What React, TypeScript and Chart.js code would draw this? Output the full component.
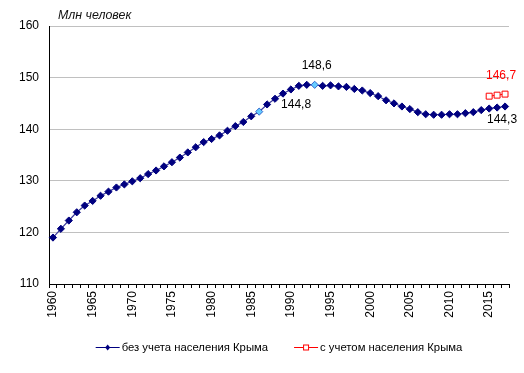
import React, { useEffect, useRef } from 'react';
import { Chart, registerables } from 'chart.js';

Chart.register(...registerables);

const years = [
  '1960', '1961', '1962', '1963', '1964', '1965', '1966', '1967', '1968', '1969',
  '1970', '1971', '1972', '1973', '1974', '1975', '1976', '1977', '1978', '1979',
  '1980', '1981', '1982', '1983', '1984', '1985', '1986', '1987', '1988', '1989',
  '1990', '1991', '1992', '1993', '1994', '1995', '1996', '1997', '1998', '1999',
  '2000', '2001', '2002', '2003', '2004', '2005', '2006', '2007', '2008', '2009',
  '2010', '2011', '2012', '2013', '2014', '2015', '2016', '2017',
];

const xTickLabels = ['1960', '1965', '1970', '1975', '1980', '1985', '1990', '1995', '2000', '2005', '2010', '2015'];

const noCrimea = [
  119.0, 120.7, 122.3, 123.9, 125.2, 126.1, 127.1, 127.9, 128.7, 129.3,
  129.9, 130.5, 131.3, 132.0, 132.8, 133.6, 134.5, 135.5, 136.5, 137.5,
  138.1, 138.8, 139.7, 140.6, 141.4, 142.5, 143.4, 144.8, 145.9, 146.9,
  147.7, 148.4, 148.6, 148.6, 148.4, 148.5, 148.3, 148.2, 147.8, 147.5,
  147.0, 146.4, 145.6, 145.0, 144.4, 143.9, 143.3, 142.9, 142.8, 142.8,
  142.9, 142.9, 143.1, 143.3, 143.7, 144.0, 144.2, 144.4,
];

const crimeaYears = ['2015', '2016', '2017'];
const withCrimea = [146.4, 146.6, 146.8];

const highlightYears = ['1986', '1993'];

const seriesNames = ['без учета населения Крыма', 'с учетом населения Крыма'];
const unitTitle = 'Млн человек';

const yMin = 110;
const yMax = 160;
const yStep = 10;

const valueLabelTexts = ['148,6', '144,8', '146,7', '144,3'];
const valueLabelDatasets = [0, 0, 1, 0];
const valueLabelYears = ['1993', '1987', '2017', '2017'];

// styles / offsets (not data)
const valueLabelColors = ['#000000', '#000000', '#ff0000', '#000000'];
const valueLabelOffsets = [[2, -19], [29, 0], [-4, -18], [-3, 13]];

const FONT = "'Liberation Sans', Arial, sans-serif";
const NAVY = '#000080';
const LINE_BLUE = '#3a3a9c';
const LIGHT = '#66ccff';
const RED = '#ff0000';

const overlayPlugin = {
  id: 'overlay',
  afterDatasetsDraw(chart: any) {
    const ctx = chart.ctx;
    const area = chart.chartArea;
    ctx.save();
    // unit title
    ctx.font = `italic 12.4px ${FONT}`;
    ctx.fillStyle = '#111111';
    ctx.textAlign = 'left';
    ctx.textBaseline = 'middle';
    ctx.fillText(unitTitle, area.left + 9, area.top - 10);

    // value labels
    ctx.font = `12px ${FONT}`;
    ctx.textAlign = 'center';
    ctx.textBaseline = 'middle';
    valueLabelTexts.forEach((txt, i) => {
      const ds = valueLabelDatasets[i];
      const meta = chart.getDatasetMeta(ds);
      const idx = ds === 0 ? years.indexOf(valueLabelYears[i]) : crimeaYears.indexOf(valueLabelYears[i]);
      const pt = meta.data[idx];
      if (!pt) return;
      ctx.fillStyle = valueLabelColors[i];
      ctx.fillText(txt, pt.x + valueLabelOffsets[i][0], pt.y + valueLabelOffsets[i][1]);
    });

    // legend
    ctx.font = `11.3px ${FONT}`;
    ctx.textAlign = 'left';
    ctx.textBaseline = 'middle';
    const lineLen = 24;
    const textGap = 2;
    const itemGap = 26;
    const widths = seriesNames.map((s) => lineLen + textGap + ctx.measureText(s).width);
    const total = widths[0] + widths[1] + itemGap;
    let x = (area.left + area.right) / 2 - total / 2;
    const y = 347;
    seriesNames.forEach((name, i) => {
      ctx.lineWidth = 1;
      ctx.strokeStyle = i === 0 ? NAVY : RED;
      ctx.beginPath();
      ctx.moveTo(x, y + 0.5);
      ctx.lineTo(x + lineLen, y + 0.5);
      ctx.stroke();
      const mx = x + lineLen / 2;
      if (i === 0) {
        ctx.fillStyle = NAVY;
        ctx.beginPath();
        ctx.moveTo(mx, y - 2.5);
        ctx.lineTo(mx + 2.5, y + 0.5);
        ctx.lineTo(mx, y + 3.5);
        ctx.lineTo(mx - 2.5, y + 0.5);
        ctx.closePath();
        ctx.fill();
      } else {
        ctx.fillStyle = '#ffffff';
        ctx.fillRect(mx - 3, y - 2.5, 6, 6);
        ctx.strokeStyle = RED;
        ctx.strokeRect(mx - 2.5, y - 2, 5, 5);
      }
      ctx.fillStyle = '#000000';
      ctx.fillText(name, x + lineLen + textGap, y + 1);
      x += widths[i] + itemGap;
    });
    ctx.restore();
  },
};

export default function App() {
  const canvasRef = useRef<HTMLCanvasElement | null>(null);

  useEffect(() => {
    document.body.style.margin = '0';
    const canvas = canvasRef.current;
    if (!canvas) return;
    const chart = new Chart(canvas, {
      type: 'line',
      data: {
        labels: years,
        datasets: [
          {
            label: seriesNames[0],
            data: noCrimea,
            borderColor: LINE_BLUE,
            borderWidth: 1.2,
            pointStyle: 'rectRot',
            pointRadius: 3.6,
            pointBorderWidth: 1,
            pointBackgroundColor: (c: any) => (highlightYears.includes(years[c.dataIndex]) ? LIGHT : NAVY),
            pointBorderColor: (c: any) => (highlightYears.includes(years[c.dataIndex]) ? '#3366cc' : NAVY),
            tension: 0,
            fill: false,
          },
          {
            label: seriesNames[1],
            data: crimeaYears.map((yr, i) => ({ x: yr, y: withCrimea[i] })),
            borderColor: RED,
            borderWidth: 1,
            pointStyle: 'rect',
            pointRadius: 4.2,
            pointBorderWidth: 1,
            pointBackgroundColor: '#ffffff',
            pointBorderColor: RED,
            tension: 0,
            fill: false,
          },
        ],
      },
      options: {
        responsive: false,
        animation: false,
        devicePixelRatio: 1,
        layout: { padding: { top: 26, right: 15, left: 0, bottom: 0 } },
        plugins: {
          legend: { display: false },
          tooltip: { enabled: false },
          title: { display: false },
        },
        scales: {
          x: {
            type: 'category',
            offset: true,
            grid: {
              offset: true,
              drawOnChartArea: false,
              drawTicks: true,
              tickLength: 4,
              color: '#000000',
            },
            border: { color: '#000000', width: 1 },
            ticks: {
              autoSkip: false,
              maxRotation: 90,
              minRotation: 90,
              padding: 3,
              color: '#000000',
              font: { family: FONT, size: 12 },
              callback: (_v: any, i: number) => (xTickLabels.includes(years[i]) ? years[i] : ''),
            },
            afterFit: (scale: any) => {
              scale.height = 89;
            },
          },
          y: {
            min: yMin,
            max: yMax,
            ticks: {
              stepSize: yStep,
              padding: 10,
              color: '#000000',
              font: { family: FONT, size: 12 },
            },
            grid: { color: '#c0c0c0', drawTicks: false },
            border: { color: '#000000', width: 1 },
            afterFit: (scale: any) => {
              scale.width = 49;
            },
          },
        },
      },
      plugins: [overlayPlugin],
    });
    return () => chart.destroy();
  }, []);

  return (
    <div style={{ width: 524, height: 373, background: '#ffffff' }}>
      <canvas ref={canvasRef} width={524} height={373} />
    </div>
  );
}
